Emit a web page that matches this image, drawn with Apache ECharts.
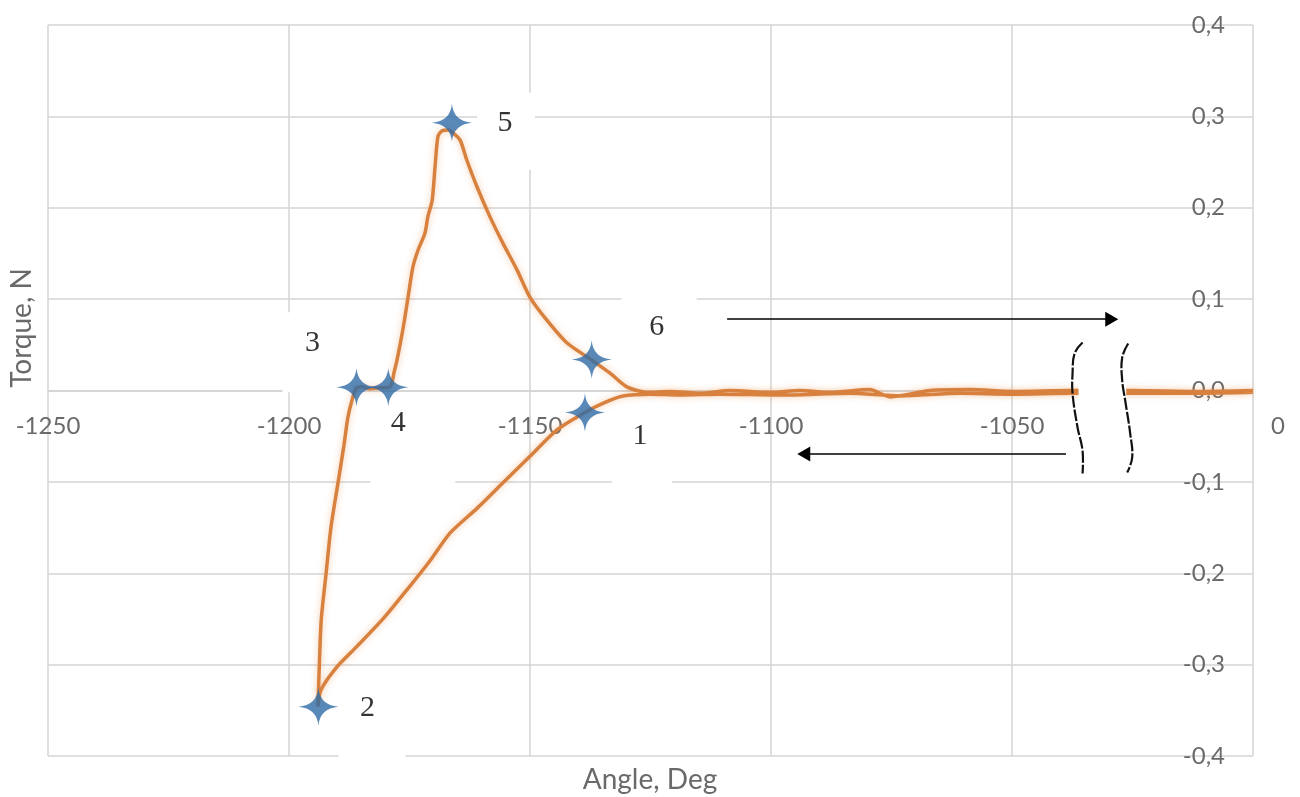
<!DOCTYPE html>
<html>
<head>
<meta charset="utf-8">
<script src="https://cdn.jsdelivr.net/npm/echarts@6/dist/echarts.min.js"></script>
<style>
  html, body { margin: 0; padding: 0; background: #fff; }
  #chart { width: 1300px; height: 797px; }
</style>
</head>
<body>
<div id="chart"></div>
<script>
// Torque vs. angle loop, traced in order: loading branch (leftwards), stall, recovery peak, return
const angle = [
  -1000.0, -1011.0, -1026.1, -1037.6, -1049.8, -1060.8, -1073.2, -1083.6, -1098.1, -1110.6,
  -1118.9, -1125.1, -1130.7, -1134.9, -1138.6, -1144.4, -1150.0, -1155.6, -1161.0, -1166.6,
  -1170.7, -1174.9, -1180.5, -1185.9, -1190.3, -1193.4, -1194.0,
  -1193.7, -1193.3, -1192.3, -1191.3, -1189.8, -1188.6, -1187.8, -1186.9, -1186.1,
  -1184.9, -1183.2, -1181.1, -1179.0,
  -1178.2, -1177.6, -1176.3, -1175.3, -1174.3, -1173.2, -1171.8, -1171.2, -1170.3, -1169.7,
  -1169.1, -1168.3, -1167.0, -1166.0, -1164.5, -1163.1, -1161.0, -1158.3, -1155.6, -1152.7,
  -1150.0, -1146.5, -1142.3, -1137.1, -1133.4, -1129.9, -1125.7,
  -1121.0, -1114.7, -1108.5, -1100.2, -1094.0, -1087.8, -1079.5, -1075.3, -1067.0, -1058.7,
  -1049.8, -1037.6, -1025.5, -1011.0, -1000.0
];
const torque = [
  -0.002, -0.003, -0.003, -0.003, -0.004, -0.003, -0.006, -0.003, -0.005, -0.004,
  -0.005, -0.004, -0.006, -0.014, -0.024, -0.043, -0.072, -0.101, -0.129, -0.156,
  -0.186, -0.214, -0.250, -0.280, -0.304, -0.328, -0.346,
  -0.300, -0.250, -0.200, -0.150, -0.100, -0.060, -0.030, -0.010, 0.002,
  0.004, 0.002, 0.003, 0.004,
  0.020, 0.033, 0.069, 0.102, 0.135, 0.154, 0.172, 0.190, 0.208, 0.245,
  0.278, 0.284, 0.285, 0.282, 0.274, 0.252, 0.223, 0.190, 0.161, 0.132,
  0.102, 0.077, 0.052, 0.033, 0.019, 0.004, -0.002,
  -0.001, -0.003, 0.000, -0.002, 0.000, -0.002, 0.001, -0.007, 0.000, 0.001,
  -0.001, 0.000, 0.000, -0.001, 0.000
];

// Numbered characteristic points
const markNames = ['1', '2', '3', '4', '5', '6'];
const markAngle = [-1138.6, -1193.9, -1186.0, -1179.4, -1166.2, -1137.2];
const markTorque = [-0.024, -0.346, 0.0035, 0.0035, 0.293, 0.034];

// Direction arrows: [start angle, end angle] at a fixed torque level
const arrowAngles = [[-1109.1, -1029.3], [-1038.8, -1093.2]];
const arrowTorque = [0.078, -0.0695];

// Axis scale
const xMin = -1250, xMax = -1000, xStep = 50;
const yMin = -0.4, yMax = 0.4, yStep = 0.1;
const xEndLabel = '0';            // angle axis is broken before its last tick
const breakAngles = [-1036.4, -1026.1];

// Layout of the number labels and their white backing boxes (pixels, relative to the point)
const labelOffsets = [[55, 24], [49, 1], [-44, -44], [10, 36], [53, 0], [65, -32]];
const labelBoxes = [[27, -3, 60, 80], [20, -32, 67, 90], [-74, -75, 69, 80],
                    [-18, 16, 85, 87], [25, -30, 58, 77], [30, -67, 75, 58]];

const sans = 'Lato, "Open Sans", sans-serif';
const serif = '"Liberation Serif", "DejaVu Serif", serif';
const grey = '#6a6a6a';
const gridColor = '#d4d4d4';

const gridBox = { left: 48, right: 47, top: 25, bottom: 41 };
const plotHeight = 797 - gridBox.top - gridBox.bottom;
// Shift the angle axis up so it runs along torque = 0
const zeroShift = -plotHeight * (0 - yMin) / (yMax - yMin);

const chart = echarts.init(document.getElementById('chart'), null, { renderer: 'canvas' });

const curve = angle.map((a, i) => [a, torque[i]]);
const marks = markAngle.map((a, i) => ({
  value: [a, markTorque[i]],
  name: markNames[i],
  label: { offset: labelOffsets[i] }
}));
const arrows = arrowAngles.map((pair, i) => [
  { coord: [pair[0], arrowTorque[i]] },
  { coord: [pair[1], arrowTorque[i]] }
]);

chart.setOption({
  animation: false,
  backgroundColor: '#fff',
  title: {
    text: 'Angle, Deg',
    left: 'center',
    top: 766,
    padding: 0,
    textStyle: { fontFamily: sans, fontSize: 28, fontWeight: 'normal', color: grey }
  },
  grid: gridBox,
  xAxis: {
    type: 'value',
    position: 'bottom',
    offset: zeroShift,
    min: xMin, max: xMax, interval: xStep,
    axisLine: { show: true, onZero: false, lineStyle: { color: gridColor, width: 1.5 } },
    axisTick: { show: false },
    splitLine: { show: true, lineStyle: { color: gridColor, width: 1.5 } },
    axisLabel: {
      margin: 24,
      fontFamily: sans, fontSize: 24, color: grey,
      formatter: v => (v === xMax ? '{end|' + xEndLabel + '}' : String(v)),
      rich: { end: { fontFamily: sans, fontSize: 24, color: grey, padding: [0, 0, 0, 50] } }
    }
  },
  yAxis: {
    type: 'value',
    position: 'right',
    min: yMin, max: yMax, interval: yStep,
    axisLine: { show: false },
    axisTick: { show: false },
    splitLine: { show: true, lineStyle: { color: gridColor, width: 1.5 } },
    axisLabel: {
      inside: true,
      margin: 28,
      fontFamily: sans, fontSize: 24, color: grey,
      formatter: v => v.toFixed(1).replace('.', ',')
    }
  },
  series: [
    {
      type: 'line',
      data: curve,
      showSymbol: false,
      smooth: 0.25,
      z: 2,
      lineStyle: {
        color: '#D8813F', width: 3.5,
        shadowColor: 'rgba(240,150,80,0.5)', shadowBlur: 6
      },
      markLine: {
        silent: true,
        symbol: ['none', 'triangle'],
        symbolSize: [15, 13],
        label: { show: false },
        lineStyle: { color: '#000', width: 1.5, type: 'solid' },
        emphasis: { disabled: true },
        data: arrows
      }
    },
    {
      type: 'scatter',
      data: marks,
      z: 5,
      symbol: 'path://M0,-20 Q1.6,-1.6 20,0 Q1.6,1.6 0,20 Q-1.6,1.6 -20,0 Q-1.6,-1.6 0,-20 Z',
      symbolSize: [40, 38],
      itemStyle: { color: '#2F6BA6' },
      label: {
        show: true,
        position: 'inside',
        formatter: p => p.name,
        fontFamily: serif, fontSize: 30, color: '#000'
      }
    }
  ]
});

// Annotation decorations positioned from the chart's own coordinate system
function decorate() {
  const toPx = v => chart.convertToPixel({ gridIndex: 0 }, v);
  const els = [];

  markAngle.forEach((a, i) => {
    const p = toPx([a, markTorque[i]]);
    const b = labelBoxes[i];
    els.push({
      type: 'rect', silent: true, z: 1,
      shape: { x: p[0] + b[0], y: p[1] + b[1], width: b[2], height: b[3] },
      style: { fill: '#fff' }
    });
  });

  // Gap in the trace where the angle axis is broken
  const l = toPx([breakAngles[0], 0]);
  const r = toPx([breakAngles[1], 0]);
  els.push({
    type: 'rect', silent: true, z: 3,
    shape: { x: l[0] + 1, y: l[1] - 12, width: r[0] - l[0] - 2, height: 24 },
    style: { fill: '#fff' }
  });

  // Wavy break marks
  const leftMark = [[5, -48], [-3, -37], [-5, -17], [-5, 3], [0, 37], [5, 60], [5, 83]];
  const rightMark = [[1, -47], [-5, -33], [-5, -10], [-2, 10], [3, 43], [5, 67], [0, 82]];
  [[l, leftMark], [r, rightMark]].forEach(([o, pts]) => {
    els.push({
      type: 'polyline', silent: true, z: 4,
      shape: { points: pts.map(q => [o[0] + q[0], o[1] + q[1]]), smooth: 0.4 },
      style: { stroke: '#111', lineWidth: 2.2, lineDash: [12, 2], fill: null }
    });
  });

  // Vertical axis title on the left
  els.push({
    type: 'text', silent: true, z: 4,
    x: 22, y: 328, rotation: Math.PI / 2,
    style: {
      text: 'Torque, N', fill: grey,
      font: '28px ' + sans, align: 'center', verticalAlign: 'middle'
    }
  });

  chart.setOption({ graphic: { elements: els } });
}
decorate();
</script>
</body>
</html>
